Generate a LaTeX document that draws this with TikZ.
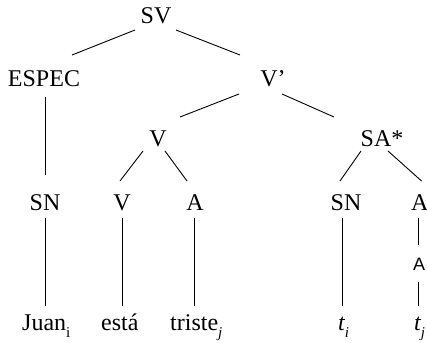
\documentclass[tikz,border=0pt]{standalone}
\usepackage{fontspec}
\setmainfont{Liberation Serif}
\newfontfamily\labelsans{Liberation Sans}
% index subscript, set small and well below the baseline
\newcommand\idx[1]{\raisebox{-7pt}{\fontsize{15}{15}\selectfont #1}}
\begin{document}
\begin{tikzpicture}[x=1pt,y=-1pt,
  lbl/.style={font=\fontsize{24}{28}\selectfont, inner sep=0pt, anchor=base},
  lblw/.style={lbl, anchor=base west},
  edge/.style={line width=0.9pt, black}]
\clip (0,0) rectangle (427,342);
\fill[white] (0,0) rectangle (427,342);

% category labels
\node[lbl] (sv)    at (156,24)  {SV};
\node[lbl] (espec) at (44,86)   {ESPEC};
\node[lbl] (vp)    at (273,86)  {V’};
\node[lbl] (vm)    at (158,146) {V};
\node[lbl] (sa)    at (382,146) {SA*};
\node[lbl] (sn1)   at (45,210)  {SN};
\node[lbl] (vb)    at (122,210) {V};
\node[lbl] (ab)    at (195,210) {A};
\node[lbl] (sn2)   at (346,210) {SN};
\node[lblw] (ap)   at (411,210) {A’};
\node[inner sep=0pt, anchor=base west, font=\labelsans\fontsize{18}{20}\selectfont] (asub) at (413,270) {A};

% terminal words
\node[lblw] (juan)   at (22,330)  {Juan\idx{i}};
\node[lblw] (esta)   at (101,330) {está};
\node[lblw] (triste) at (170,330) {triste\idx{\itshape j}};
\node[lblw] (ti)     at (338,330) {\itshape t\idx{i}};
\node[lblw] (tj)     at (414,330) {\itshape t\idx{j}};

% branches
\draw[edge] ([shift={(-21,6)}]sv.base) -- ([shift={(28,-31)}]espec.base);
\draw[edge] ([shift={(20,6)}]sv.base) -- ([shift={(-33,-31)}]vp.base);
\draw[edge] ([shift={(-34,8)}]vp.base) -- ([shift={(22,-29)}]vm.base);
\draw[edge] ([shift={(9,8)}]vp.base) -- ([shift={(-48,-29)}]sa.base);
\draw[edge] ([shift={(-15,5)}]vm.base) -- ([shift={(-2,-29)}]vb.base);
\draw[edge] ([shift={(7,5)}]vm.base) -- ([shift={(-8,-29)}]ab.base);
\draw[edge] ([shift={(-21,5)}]sa.base) -- ([shift={(-6,-29)}]sn2.base);
\draw[edge] ([shift={(6,5)}]sa.base) -- ([shift={(-1,-29)}]ap.base);
\draw[edge] ([shift={(1,11)}]espec.base) -- ([shift={(0,-35)}]sn1.base);

% vertical projections to the words
\draw[edge] ([shift={(0,8)}]sn1.base) -- ([shift={(23,-24)}]juan.base west);
\draw[edge] ([shift={(0,8)}]vb.base) -- ([shift={(21,-24)}]esta.base west);
\draw[edge] ([shift={(-1,8)}]ab.base) -- ([shift={(24,-24)}]triste.base west);
\draw[edge] ([shift={(-4,8)}]sn2.base) -- ([shift={(4,-24)}]ti.base west);
\draw[edge] ([shift={(7,8)}]ap.base west) -- ([shift={(5,-25)}]asub.base west);
\draw[edge] ([shift={(5,12)}]asub.base west) -- ([shift={(4,-24)}]tj.base west);
\end{tikzpicture}
\end{document}
